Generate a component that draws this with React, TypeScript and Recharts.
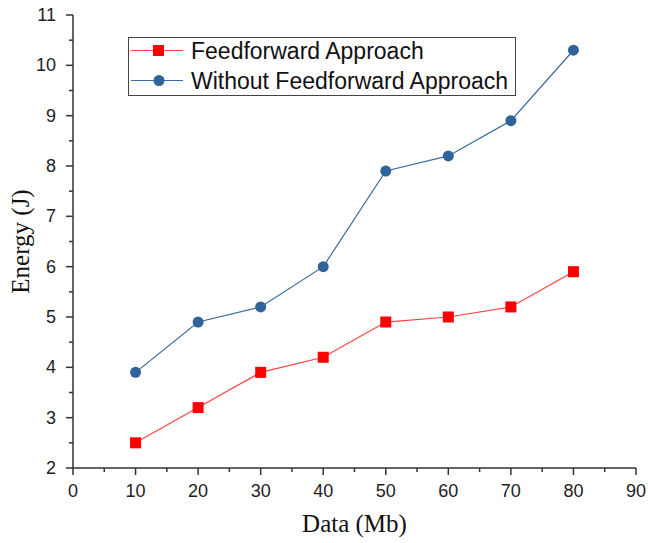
import React from 'react';
import { LineChart, Line, XAxis, YAxis, Label } from 'recharts';

const dataSizes = [10, 20, 30, 40, 50, 60, 70, 80];
const feedforward = [2.5, 3.2, 3.9, 4.2, 4.9, 5.0, 5.2, 5.9];
const withoutFeedforward = [3.9, 4.9, 5.2, 6.0, 7.9, 8.2, 8.9, 10.3];

const xTicks = [0, 5, 10, 15, 20, 25, 30, 35, 40, 45, 50, 55, 60, 65, 70, 75, 80, 85, 90];
const yTicks = [2, 2.5, 3, 3.5, 4, 4.5, 5, 5.5, 6, 6.5, 7, 7.5, 8, 8.5, 9, 9.5, 10, 10.5, 11];

const RED = '#ff0000';
const RED_LINE = '#ff4040';
const BLUE = '#2f6399';
const BLUE_LINE = '#3a6a9e';
const AXIS = '#333333';
const TICK_FONT = 'Arial, "Liberation Sans", sans-serif';
const TITLE_FONT = '"Times New Roman", "Liberation Serif", serif';

const rows = dataSizes.map((x, i) => ({
  x,
  ff: feedforward[i],
  noff: withoutFeedforward[i],
}));

const XTick = (props: any) => {
  const { x, y, payload } = props;
  const major = payload.value % 10 === 0;
  return (
    <g>
      <line x1={x} x2={x} y1={y - 8} y2={y - 8 + (major ? 7 : 4)} stroke={AXIS} strokeWidth={1.5} />
      {major && (
        <text x={x} y={y + 21} textAnchor="middle" fontSize={18} fontFamily={TICK_FONT} fill="#222">
          {payload.value}
        </text>
      )}
    </g>
  );
};

const YTick = (props: any) => {
  const { x, y, payload } = props;
  const major = Number.isInteger(payload.value);
  const ax = x + 8;
  return (
    <g>
      <line x1={ax} x2={ax - (major ? 7 : 4)} y1={y} y2={y} stroke={AXIS} strokeWidth={1.5} />
      {major && (
        <text x={ax - 17} y={y + 6} textAnchor="end" fontSize={18} fontFamily={TICK_FONT} fill="#222">
          {payload.value}
        </text>
      )}
    </g>
  );
};

const Square = (props: any) => {
  const { cx, cy } = props;
  if (cx == null || cy == null) return null;
  return <rect x={cx - 5.5} y={cy - 5.5} width={11} height={11} fill={RED} />;
};

const Dot = (props: any) => {
  const { cx, cy } = props;
  if (cx == null || cy == null) return null;
  return <circle cx={cx} cy={cy} r={5.5} fill={BLUE} />;
};

const LegendBox = () => (
  <div
    style={{
      position: 'absolute',
      left: 128,
      top: 37,
      width: 386,
      height: 57,
      border: '1.5px solid #444',
      background: '#fff',
    }}
  >
    <svg width={386} height={57} style={{ position: 'absolute', left: 0, top: 0 }}>
      <line x1={2} x2={54} y1={12.5} y2={12.5} stroke={RED_LINE} strokeWidth={1.2} />
      <rect x={24} y={7} width={11} height={11} fill={RED} />
      <text x={62} y={20.5} fontSize={23} fontFamily={TICK_FONT} fill="#111">Feedforward Approach</text>
      <line x1={2} x2={54} y1={42.5} y2={42.5} stroke={BLUE_LINE} strokeWidth={1.2} />
      <circle cx={30} cy={42.5} r={5.5} fill={BLUE} />
      <text x={62} y={50.5} fontSize={23} fontFamily={TICK_FONT} fill="#111">Without Feedforward Approach</text>
    </svg>
  </div>
);

export default function App() {
  return (
    <div style={{ position: 'absolute', left: 0, top: 0, width: 648, height: 543, background: '#fff' }}>
      <LineChart width={648} height={543} data={rows} margin={{ top: 15, right: 12, bottom: 0, left: 0 }}>
        <XAxis
          dataKey="x"
          type="number"
          domain={[0, 90]}
          ticks={xTicks}
          interval={0}
          height={75}
          stroke={AXIS}
          strokeWidth={1.5}
          tickLine={false}
          tick={<XTick />}
        >
          <Label value="Data (Mb)" position="insideBottom" offset={11} fontSize={25} fontFamily={TITLE_FONT} fill="#111" />
        </XAxis>
        <YAxis
          type="number"
          domain={[2, 11]}
          ticks={yTicks}
          interval={0}
          width={73}
          stroke={AXIS}
          strokeWidth={1.5}
          tickLine={false}
          tick={<YTick />}
        >
          <Label value="Energy (J)" angle={-90} position="insideLeft" offset={20} fontSize={25} fontFamily={TITLE_FONT} fill="#111" style={{ textAnchor: 'middle' }} />
        </YAxis>
        <Line dataKey="ff" stroke={RED_LINE} strokeWidth={1.2} dot={<Square />} activeDot={false} isAnimationActive={false} />
        <Line dataKey="noff" stroke={BLUE_LINE} strokeWidth={1.2} dot={<Dot />} activeDot={false} isAnimationActive={false} />
      </LineChart>
      <LegendBox />
    </div>
  );
}
